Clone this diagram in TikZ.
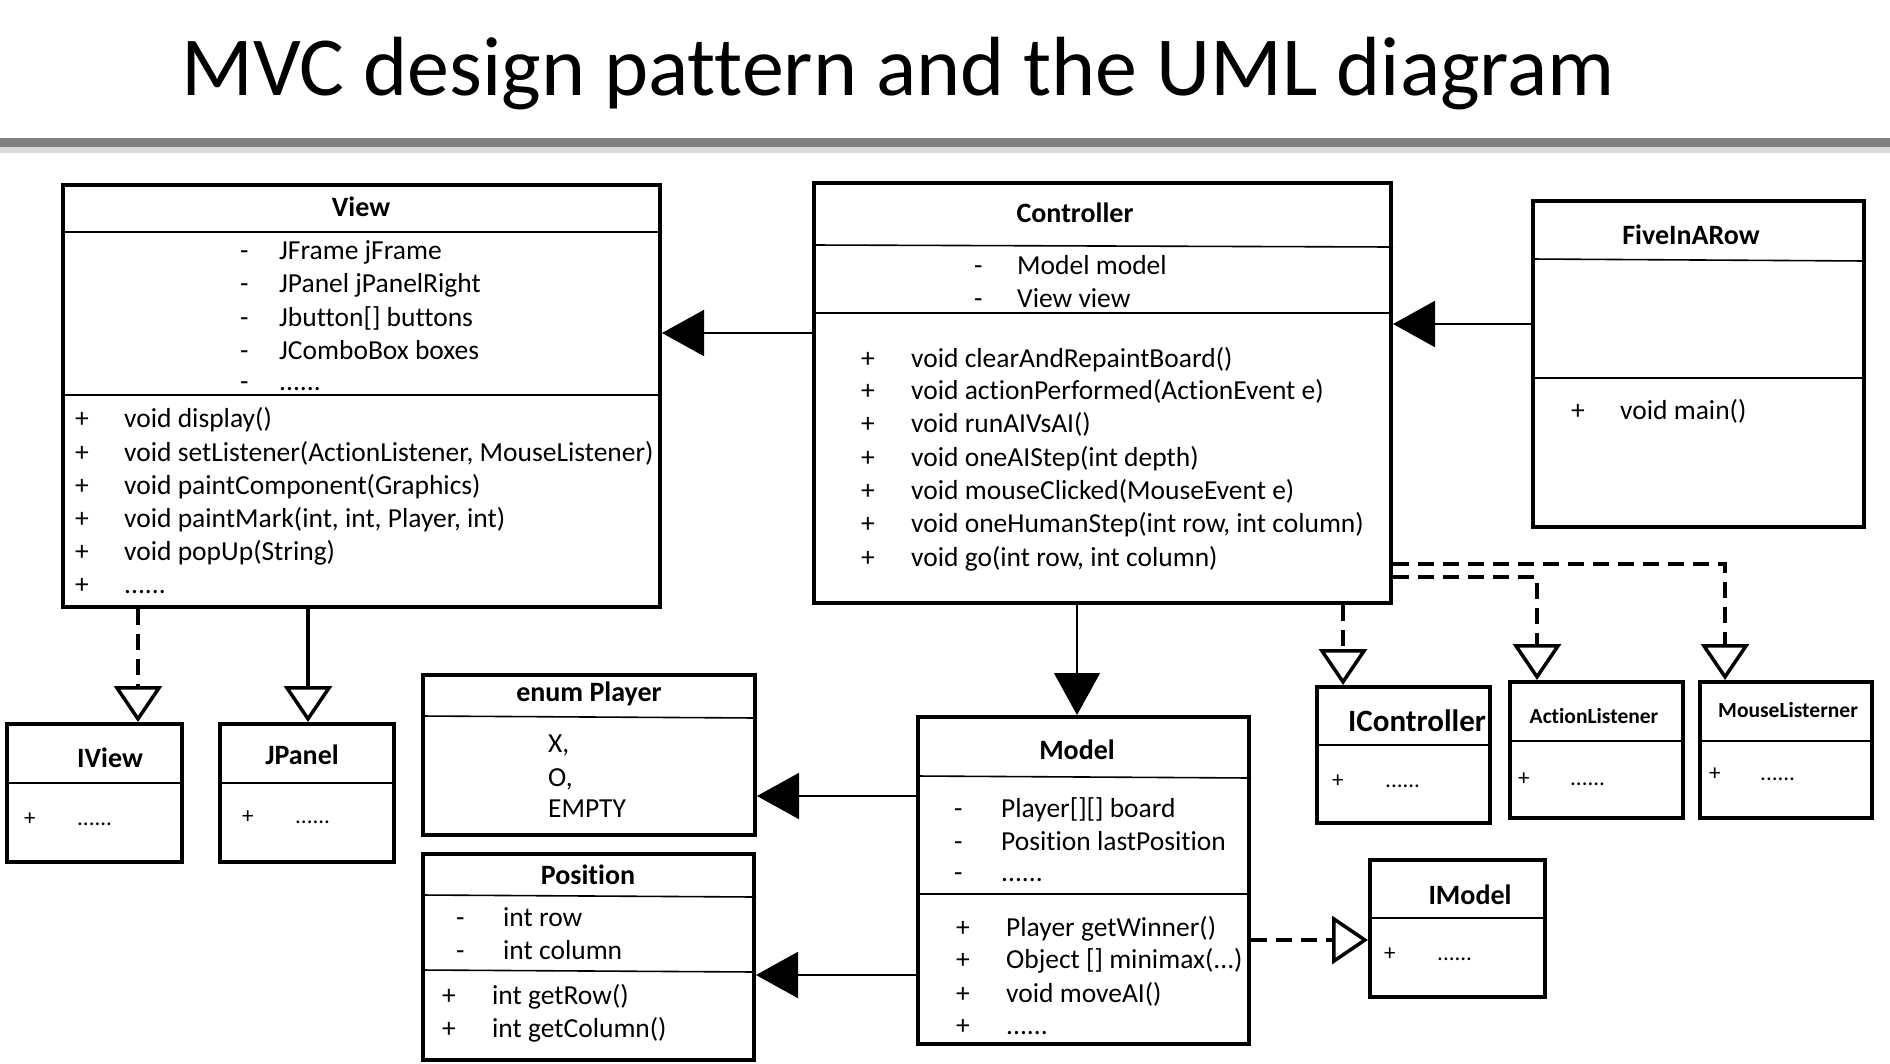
\documentclass[tikz,border=0pt]{standalone}
\usepackage{fontspec}
\setmainfont{Carlito}[Ligatures=CommonOff]
\usepackage{tikz}
\usetikzlibrary{arrows.meta}

\tikzset{
  umlbox/.style={draw, line width=4pt, inner sep=0pt},
  sepline/.style={line width=1.6pt},
  row/.style={anchor=base west, inner sep=0pt, font=\fontsize{27.5}{30}\selectfont},
  smallrow/.style={anchor=base west, inner sep=0pt, font=\fontsize{23}{25}\selectfont},
  head/.style={inner sep=0pt, font=\fontsize{28}{30}\selectfont\bfseries},
  assoc/.style={line width=2pt, -{Triangle[length=42pt,width=46pt]}},
  inherit/.style={line width=3.5pt, -{Triangle[open,length=36pt,width=48pt,line width=3.5pt]}},
  realize/.style={line width=4.5pt, dash pattern=on 16pt off 9pt, -{Triangle[open,length=36pt,width=48pt,line width=3.5pt]}},
}

\begin{document}
\begin{tikzpicture}[x=1pt,y=-1pt]
        \useasboundingbox (0,0) rectangle (1890,1063);
        % title and rule
        \node[font=\fontsize{84}{90}\selectfont, anchor=base west, inner sep=0pt] (title) at (181,95) {MVC design pattern and the UML diagram};
        \fill[black!50] (0,138) rectangle (1890,147);
        \fill[black!15] (0,147) rectangle (1890,153);

        % boxes
        \node[umlbox, minimum width=597pt, minimum height=422pt] (view) at (361.5,396) {};
        \node[umlbox, minimum width=577pt, minimum height=420pt] (ctrl) at (1102.5,393) {};
        \node[umlbox, minimum width=331pt, minimum height=326pt] (five) at (1698.5,364) {};
        \node[umlbox, minimum width=175pt, minimum height=138pt] (iview) at (94.5,793) {};
        \node[umlbox, minimum width=174pt, minimum height=138pt] (jpanel) at (307,793) {};
        \node[umlbox, minimum width=332pt, minimum height=160pt] (player) at (589,755) {};
        \node[umlbox, minimum width=331pt, minimum height=206pt] (pos) at (588.5,957) {};
        \node[umlbox, minimum width=331pt, minimum height=327pt] (model) at (1083.5,880.5) {};
        \node[umlbox, minimum width=173pt, minimum height=136pt] (ictrl) at (1403.5,755) {};
        \node[umlbox, minimum width=173pt, minimum height=136pt] (alist) at (1596.5,750) {};
        \node[umlbox, minimum width=172pt, minimum height=136pt] (mlist) at (1786,750) {};
        \node[umlbox, minimum width=175pt, minimum height=137pt] (imodel) at (1457.5,928.5) {};

        % separators
        \draw[sepline] (view.west |- 0,232) -- (view.east |- 0,232);
        \draw[sepline] (view.west |- 0,395) -- (view.east |- 0,395);
        \draw[sepline] (ctrl.west |- 0,245) -- (ctrl.east |- 0,247);
        \draw[sepline] (ctrl.west |- 0,313) -- (ctrl.east |- 0,313);
        \draw[sepline] (five.west |- 0,259) -- (five.east |- 0,261);
        \draw[sepline] (five.west |- 0,378) -- (five.east |- 0,378);
        \draw[sepline] (iview.west |- 0,783) -- (iview.east |- 0,783);
        \draw[sepline] (jpanel.west |- 0,783) -- (jpanel.east |- 0,783);
        \draw[sepline] (player.west |- 0,716) -- (player.east |- 0,718);
        \draw[sepline] (pos.west |- 0,895) -- (pos.east |- 0,897);
        \draw[sepline] (pos.west |- 0,970) -- (pos.east |- 0,972);
        \draw[sepline] (model.west |- 0,776) -- (model.east |- 0,778);
        \draw[sepline] (model.west |- 0,894) -- (model.east |- 0,894);
        \draw[sepline] (ictrl.west |- 0,745) -- (ictrl.east |- 0,745);
        \draw[sepline] (alist.west |- 0,741) -- (alist.east |- 0,741);
        \draw[sepline] (mlist.west |- 0,741) -- (mlist.east |- 0,741);
        \draw[sepline] (imodel.west |- 0,918) -- (imodel.east |- 0,918);

        % View
        \node[head] (viewt) at (361,207) {View};
        \node[row] (va1) at (240,259) {\makebox[39pt][l]{-}JFrame jFrame};
        \node[row] (va2) at (240,292) {\makebox[39pt][l]{-}JPanel jPanelRight};
        \node[row] (va3) at (240,326) {\makebox[39pt][l]{-}Jbutton[] buttons};
        \node[row] (va4) at (240,359) {\makebox[39pt][l]{-}JComboBox boxes};
        \node[row] (va5) at (240,390) {\makebox[39pt][l]{-}......};
        \node[row] (vm1) at (75,427) {\makebox[49pt][l]{+}void display()};
        \node[row] (vm2) at (75,461) {\makebox[49pt][l]{+}void setListener(ActionListener, MouseListener)};
        \node[row] (vm3) at (75,494) {\makebox[49pt][l]{+}void paintComponent(Graphics)};
        \node[row] (vm4) at (75,527) {\makebox[49pt][l]{+}void paintMark(int, int, Player, int)};
        \node[row] (vm5) at (75,560) {\makebox[49pt][l]{+}void popUp(String)};
        \node[row] (vm6) at (75,593) {\makebox[49pt][l]{+}......};

        % Controller
        \node[head] (ctrlt) at (1075,213) {Controller};
        \node[row] (ca1) at (974,274) {\makebox[43pt][l]{-}Model model};
        \node[row] (ca2) at (974,307) {\makebox[43pt][l]{-}View view};
        \node[row] (cm1) at (861,367) {\makebox[50pt][l]{+}void clearAndRepaintBoard()};
        \node[row] (cm2) at (861,399) {\makebox[50pt][l]{+}void actionPerformed(ActionEvent e)};
        \node[row] (cm3) at (861,432) {\makebox[50pt][l]{+}void runAIVsAI()};
        \node[row] (cm4) at (861,466) {\makebox[50pt][l]{+}void oneAIStep(int depth)};
        \node[row] (cm5) at (861,499) {\makebox[50pt][l]{+}void mouseClicked(MouseEvent e)};
        \node[row] (cm6) at (861,532) {\makebox[50pt][l]{+}void oneHumanStep(int row, int column)};
        \node[row] (cm7) at (861,566) {\makebox[50pt][l]{+}void go(int row, int column)};

        % FiveInARow
        \node[head] (fivet) at (1691,235) {FiveInARow};
        \node[row] (fm1) at (1571,419) {\makebox[49pt][l]{+}void main()};

        % IView, JPanel
        \node[head] (iviewt) at (110,758) {IView};
        \node[smallrow] (ivm1) at (24,825) {\makebox[53pt][l]{+}......};
        \node[head] (jpanelt) at (302,755) {JPanel};
        \node[smallrow] (jpm1) at (242,823) {\makebox[53pt][l]{+}......};

        % enum Player
        \node[head] (playert) at (589,694) {enum Player};
        \node[row] (pv1) at (548,752) {X,};
        \node[row] (pv2) at (548,786) {O,};
        \node[row] (pv3) at (548,817) {EMPTY};

        % Position
        \node[head] (post) at (588,875) {Position};
        \node[row] (pa1) at (456,926) {\makebox[47pt][l]{-}int row};
        \node[row] (pa2) at (456,959) {\makebox[47pt][l]{-}int column};
        \node[row] (pm1) at (442,1004) {\makebox[50pt][l]{+}int getRow()};
        \node[row] (pm2) at (442,1037) {\makebox[50pt][l]{+}int getColumn()};

        % Model
        \node[head] (modelt) at (1077,750) {Model};
        \node[row] (ma1) at (954,817) {\makebox[47pt][l]{-}Player[][] board};
        \node[row] (ma2) at (954,850) {\makebox[47pt][l]{-}Position lastPosition};
        \node[row] (ma3) at (954,881) {\makebox[47pt][l]{-}......};
        \node[row] (mm1) at (956,936) {\makebox[50pt][l]{+}Player getWinner()};
        \node[row] (mm2) at (956,968) {\makebox[50pt][l]{+}Object [] minimax(...)};
        \node[row] (mm3) at (956,1002) {\makebox[50pt][l]{+}void moveAI()};
        \node[row] (mm4) at (956,1034) {\makebox[50pt][l]{+}......};

        % interfaces
        \node[head, font=\fontsize{31}{32}\selectfont\bfseries, anchor=west] (ictrlt) at (1348,721) {IController};
        \node[smallrow] (icm1) at (1332,787) {\makebox[53pt][l]{+}......};
        \node[head, font=\fontsize{21.5}{24}\selectfont\bfseries] (alistt) at (1594,716) {ActionListener};
        \node[smallrow] (alm1) at (1518,785) {\makebox[52pt][l]{+}......};
        \node[head, font=\fontsize{21.5}{24}\selectfont\bfseries, anchor=west] (mlistt) at (1718,710) {MouseListerner};
        \node[smallrow] (mlm1) at (1709,780) {\makebox[51pt][l]{+}......};
        \node[head] (imodelt) at (1470,895) {IModel};
        \node[smallrow] (imm1) at (1384,960) {\makebox[53pt][l]{+}......};

        % connectors
        \draw[assoc] (ctrl.west |- 0,333) -- (view.east |- 0,333);
        \draw[assoc] (five.west |- 0,324) -- (ctrl.east |- 0,324);
        \draw[assoc, line width=1.2pt] (ctrl.south -| 1077,0) -- (model.north -| 1077,0);
        \draw[assoc] (model.west |- 0,796) -- (player.east |- 0,796);
        \draw[assoc] (model.west |- 0,975) -- (pos.east |- 0,975);
        \draw[realize] (view.south -| 138,0) -- (iview.north -| 138,0);
        \draw[inherit] (view.south -| 308,0) -- (jpanel.north -| 308,0);
        \draw[realize] (ctrl.south -| 1343,0) -- (ictrl.north -| 1343,0);
        \draw[realize] (ctrl.east |- 0,577) -| (alist.north -| 1537,0);
        \draw[realize] (ctrl.east |- 0,564) -| (mlist.north -| 1725,0);
        \draw[realize] (model.east |- 0,940) -- (imodel.west |- 0,940);
\end{tikzpicture}
\end{document}
